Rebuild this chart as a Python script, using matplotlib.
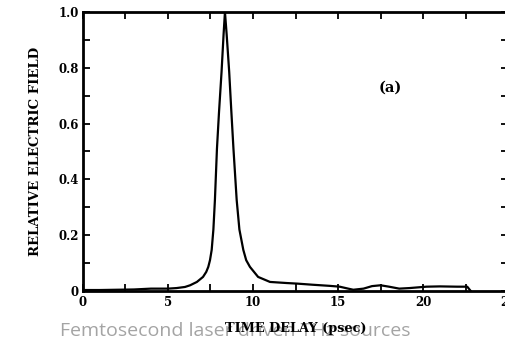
import matplotlib
matplotlib.use("Agg")
import matplotlib.pyplot as plt
from matplotlib.ticker import MultipleLocator

# pulse shape
delay = [0, 1, 2, 3, 4, 5, 5.5, 6, 6.3, 6.7, 7.06, 7.25, 7.37, 7.47, 7.57, 7.67, 7.76,
         7.88, 8.0, 8.15, 8.27, 8.35, 8.45, 8.6, 8.72, 8.85, 9.04, 9.2, 9.43, 9.6,
         9.82, 10.3, 11.0, 12, 12.6, 13.5, 14.5, 15.1, 15.6, 15.9, 16.5, 17, 17.5,
         18, 18.6, 19.2, 20.2, 21, 22, 22.6, 22.8]
field = [0.003, 0.003, 0.004, 0.005, 0.008, 0.008, 0.010, 0.014, 0.02, 0.032, 0.05,
         0.068, 0.086, 0.11, 0.147, 0.22, 0.326,
         0.51, 0.64, 0.785, 0.92, 1.0, 0.92, 0.785, 0.65, 0.51, 0.326, 0.22, 0.147,
         0.11, 0.086, 0.05, 0.032, 0.028, 0.026, 0.022, 0.018, 0.015, 0.008, 0.004,
         0.008, 0.017, 0.02, 0.015, 0.008, 0.01, 0.015, 0.016, 0.015, 0.015, 0.0]

xticks = [0, 5, 10, 15, 20, 25]
xticklabels = ["0", "5", "10", "15", "20", "25"]
yticks = [0, 0.2, 0.4, 0.6, 0.8, 1.0]
yticklabels = ["0", "0.2", "0.4", "0.6", "0.8", "1.0"]

plt.rcParams['font.family'] = ['DejaVu Serif']

fig = plt.figure(figsize=(5.06, 3.43), dpi=100)
ax = fig.add_axes([0.164, 0.152, 0.84, 0.813])

ax.plot(delay, field, color="black", lw=1.6)
ax.set_xlim(0, 25)
ax.set_ylim(0, 1.0)

ax.set_xticks(xticks)
ax.set_xticklabels(xticklabels, fontweight="bold", fontsize=8.5)
ax.set_yticks(yticks)
ax.set_yticklabels(yticklabels, fontweight="bold", fontsize=8.5)
ax.xaxis.set_minor_locator(MultipleLocator(2.5))
ax.yaxis.set_minor_locator(MultipleLocator(0.1))
ax.tick_params(which="both", direction="in", top=True, right=True, width=1.3, length=5)
ax.tick_params(axis="x", which="major", pad=4)
ax.tick_params(axis="y", which="major", pad=3)
for s in ax.spines.values():
    s.set_linewidth(2)

ax.set_ylabel("RELATIVE ELECTRIC FIELD", fontweight="bold", fontsize=9.5, labelpad=12)
ax.set_xlabel("TIME DELAY (psec)", fontweight="bold", fontsize=9.3, labelpad=9)

ax.text(18.1, 0.73, "(a)", fontweight="bold", fontsize=10.5, ha="center", va="center")

# caption watermark sits under the axis label
fig.text(0.465, 0.035, "Femtosecond laser driven THz sources", color="#9a9a9a",
         fontsize=14, family="Open Sans", ha="center", va="center", alpha=0.9,
         zorder=-1)

fig.savefig("out.png", dpi=100)
